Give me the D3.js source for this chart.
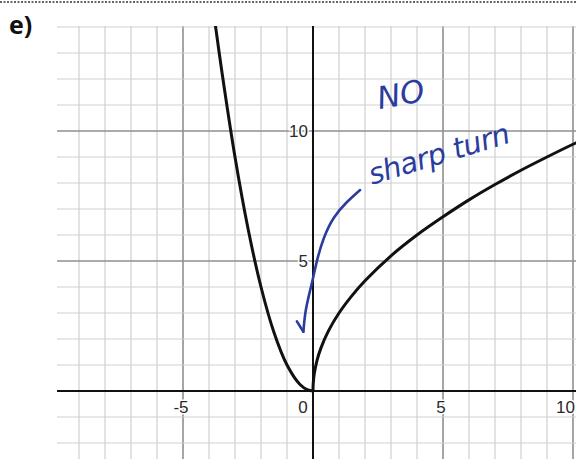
<!DOCTYPE html>
<html>
<head>
<meta charset="utf-8">
<script src="https://cdn.jsdelivr.net/npm/d3@7/dist/d3.min.js"></script>
<style>
  html, body { margin: 0; padding: 0; background: #fff; }
  svg { display: block; }
</style>
</head>
<body>
<svg id="chart" width="576" height="459"></svg>
<script>
// Piecewise function: parabola branch for x < 0, root branch for x >= 0
const leftX  = [-3.8, -3.5, -3.0, -2.5, -2.0, -1.5, -1.0, -0.5, -0.2, 0];
const leftY  = [14.4, 12.25, 9.0, 6.25, 4.0, 2.25, 1.0, 0.25, 0.04, 0];
const rightX = [0, 0.01, 0.05, 0.15, 0.3, 0.6, 1, 1.5, 2, 3, 4, 5, 6, 7, 8, 9, 10, 10.5];
const rightY = [0, 0.3, 0.67, 1.16, 1.64, 2.32, 3.0, 3.67, 4.24, 5.2, 6.0, 6.7, 7.35, 7.94, 8.49, 9.0, 9.49, 9.72];

const xTickValues = [-5, 0, 5, 10];
const xTickLabels = ["-5", "0", "5", "10"];
const yTickValues = [5, 10];
const yTickLabels = ["5", "10"];

// Hand-drawn note and arrow (data units)
const noteLines = ["NO", "sharp turn"];
const arrowX = [1.81, 1.30, 0.78, 0.40, 0.14, 0.01, -0.18, -0.31, -0.37];
const arrowY = [7.73, 7.28, 6.70, 5.90, 5.00, 4.36, 3.59, 2.99, 2.28];
const arrowHeadX = [-0.62, -0.37];
const arrowHeadY = [2.68, 2.28];

const svg = d3.select("#chart");
const W = 576, H = 459;

const x = d3.scaleLinear().domain([-10, 10]).range([53, 573]);
const y = d3.scaleLinear().domain([0, 10]).range([391, 131]);

const gridLeft = 57, gridTop = 26, gridRight = W, gridBottom = H;

// perforated edge at the top of the sheet
svg.append("line")
  .attr("x1", 0).attr("x2", W).attr("y1", 2).attr("y2", 2)
  .attr("stroke", "#666").attr("stroke-width", 2)
  .attr("stroke-dasharray", "2,1.5");

// question label
svg.append("text")
  .attr("x", 9).attr("y", 34)
  .attr("font-family", "Open Sans, Liberation Sans, sans-serif")
  .attr("font-weight", "bold")
  .attr("font-size", 25)
  .attr("fill", "#111")
  .text("e)");

const grid = svg.append("g");

// vertical grid lines, one per unit
const xs = d3.range(-9, 11);
grid.selectAll("line.v").data(xs).join("line")
  .attr("class", "v")
  .attr("x1", d => x(d)).attr("x2", d => x(d))
  .attr("y1", gridTop).attr("y2", gridBottom)
  .attr("stroke", d => d % 5 === 0 ? "#8f8f8f" : "#cfcfcf")
  .attr("stroke-width", d => d % 5 === 0 ? 1.6 : 1.2);

// horizontal grid lines, one per unit
const ys = d3.range(-2, 15);
grid.selectAll("line.h").data(ys).join("line")
  .attr("class", "h")
  .attr("y1", d => y(d)).attr("y2", d => y(d))
  .attr("x1", gridLeft).attr("x2", gridRight)
  .attr("stroke", d => d % 5 === 0 ? "#8f8f8f" : "#cfcfcf")
  .attr("stroke-width", d => d % 5 === 0 ? 1.6 : 1.2);

// axes
svg.append("line")
  .attr("x1", gridLeft).attr("x2", gridRight)
  .attr("y1", y(0)).attr("y2", y(0))
  .attr("stroke", "#111").attr("stroke-width", 2);
svg.append("line")
  .attr("x1", x(0)).attr("x2", x(0))
  .attr("y1", gridTop).attr("y2", gridBottom)
  .attr("stroke", "#111").attr("stroke-width", 2);

// tick labels
const labelFont = "Liberation Sans, Arial, sans-serif";
const halo = sel => sel
  .attr("font-family", labelFont)
  .attr("font-size", 17)
  .attr("fill", "#2a2a2a")
  .attr("stroke", "#fff").attr("stroke-width", 3)
  .attr("paint-order", "stroke");

svg.append("g").selectAll("text").data(xTickValues).join("text")
  .attr("x", d => d === 0 ? x(d) - 10 : (d === 10 ? x(d) + 2 : x(d) - 2))
  .attr("y", y(0) + 22)
  .attr("text-anchor", d => d === 10 ? "end" : "middle")
  .call(halo)
  .text((d, i) => xTickLabels[i]);

svg.append("g").selectAll("text").data(yTickValues).join("text")
  .attr("x", x(0) - 5)
  .attr("y", d => y(d) + 6)
  .attr("text-anchor", "end")
  .call(halo)
  .text((d, i) => yTickLabels[i]);

// function branches
svg.append("clipPath").attr("id", "plotClip")
  .append("rect").attr("x", gridLeft).attr("y", gridTop)
  .attr("width", gridRight - gridLeft).attr("height", gridBottom - gridTop);

const line = d3.line()
  .x(d => x(d[0])).y(d => y(d[1]))
  .curve(d3.curveCatmullRom.alpha(0.5));

const curves = svg.append("g").attr("clip-path", "url(#plotClip)");
curves.append("path")
  .datum(d3.zip(leftX, leftY))
  .attr("d", line)
  .attr("fill", "none").attr("stroke", "#111").attr("stroke-width", 3)
  .attr("stroke-linecap", "round");
curves.append("path")
  .datum(d3.zip(rightX, rightY))
  .attr("d", line)
  .attr("fill", "none").attr("stroke", "#111").attr("stroke-width", 3)
  .attr("stroke-linecap", "round");

// handwritten note in blue ink
const ink = "#2a3c9e";
const noteFont = "DejaVu Sans, sans-serif";
svg.append("text")
  .attr("transform", `translate(${x(3.45)},${y(11.0)}) rotate(-10)`)
  .attr("text-anchor", "middle")
  .attr("font-family", noteFont)
  .attr("font-size", 31)
  .attr("font-style", "italic")
  .attr("font-weight", 300)
  .attr("fill", ink)
  .text(noteLines[0]);
svg.append("text")
  .attr("transform", `translate(${x(4.95)},${y(8.75)}) rotate(-17)`)
  .attr("text-anchor", "middle")
  .attr("font-family", noteFont)
  .attr("font-size", 29)
  .attr("font-style", "italic")
  .attr("font-weight", 300)
  .attr("letter-spacing", -0.5)
  .attr("fill", ink)
  .text(noteLines[1]);

const inkLine = d3.line().x(d => x(d[0])).y(d => y(d[1])).curve(d3.curveBasis);
svg.append("path")
  .datum(d3.zip(arrowX, arrowY))
  .attr("d", inkLine)
  .attr("fill", "none").attr("stroke", ink).attr("stroke-width", 2.6)
  .attr("stroke-linecap", "round");
svg.append("path")
  .datum(d3.zip(arrowHeadX, arrowHeadY))
  .attr("d", d3.line().x(d => x(d[0])).y(d => y(d[1])))
  .attr("fill", "none").attr("stroke", ink).attr("stroke-width", 2.6)
  .attr("stroke-linecap", "round");
</script>
</body>
</html>
